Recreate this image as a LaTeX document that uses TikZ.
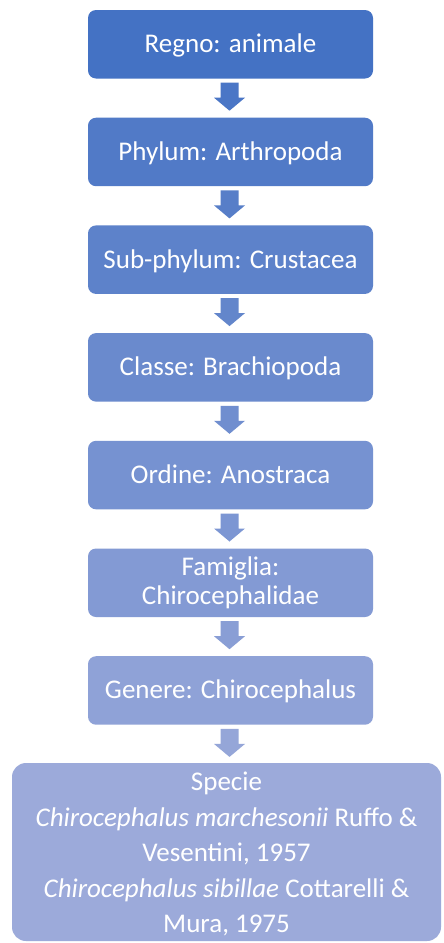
\documentclass[tikz,border=0pt]{standalone}
\usepackage{fontspec}
\setmainfont{Carlito}
\usetikzlibrary{calc}
\definecolor{c1}{RGB}{68,114,196}
\definecolor{c2}{RGB}{81,122,199}
\definecolor{c3}{RGB}{93,130,202}
\definecolor{c4}{RGB}{106,138,205}
\definecolor{c5}{RGB}{118,146,209}
\definecolor{c6}{RGB}{131,154,212}
\definecolor{c7}{RGB}{143,162,215}
\definecolor{c8}{RGB}{156,170,218}
\colorlet{a1}{c1!50!c2}
\colorlet{a2}{c2!50!c3}
\colorlet{a3}{c3!50!c4}
\colorlet{a4}{c4!50!c5}
\colorlet{a5}{c5!50!c6}
\colorlet{a6}{c6!50!c7}
\colorlet{a7}{c7!50!c8}
\tikzset{
  taxbox/.style={rounded corners=8pt, minimum width=285pt, minimum height=68.5pt,
    inner sep=0pt, text=white, font=\fontsize{27}{29}\selectfont, align=center},
  oneline/.style={text height=21pt, text depth=4pt},
}
\newcommand{\blockarr}[3]{%
  \fill[#3] ($(#1.south)+(-1,4)$) ++(-9,0) -- ++(18,0) -- ++(0,15) -- ++(6.5,0)
    -- ++(-15.5,13) -- ++(-15.5,-13) -- ++(6.5,0) -- cycle;}
\begin{document}
\begin{tikzpicture}[x=1pt,y=-1pt]
\useasboundingbox[fill=white] (0,0) rectangle (444,943);
\node[taxbox, oneline, fill=c1] (b1) at (230.5,44.25) {Regno: animale};
\node[taxbox, oneline, fill=c2] (b2) at (230.5,151.95) {Phylum: Arthropoda};
\node[taxbox, oneline, fill=c3] (b3) at (230.5,259.65) {Sub-phylum: Crustacea};
\node[taxbox, oneline, fill=c4] (b4) at (230.5,367.35) {Classe: Brachiopoda};
\node[taxbox, oneline, fill=c5] (b5) at (230.5,475.05) {Ordine: Anostraca};
\node[taxbox, fill=c6] (b6) at (230.5,582.75) {Famiglia:\\Chirocephalidae};
\node[taxbox, oneline, fill=c7] (b7) at (230.5,690.45) {Genere: Chirocephalus};
\node[fill=c8, rounded corners=14pt, minimum width=429pt, minimum height=178pt,
  inner sep=0pt] (b8) at (226.5,852) {};
\node[anchor=north, inner sep=0pt, text=white, align=center,
  font=\fontsize{27}{35.5}\selectfont] (spt) at ($(b8.north)+(0,9)$)
  {Specie\\
   \textit{Chirocephalus marchesonii} Ruffo \&\\
   Vesentini, 1957\\
   \textit{Chirocephalus sibillae} Cottarelli \&\\
   Mura, 1975};
\blockarr{b1}{b2}{a1}
\blockarr{b2}{b3}{a2}
\blockarr{b3}{b4}{a3}
\blockarr{b4}{b5}{a4}
\blockarr{b5}{b6}{a5}
\blockarr{b6}{b7}{a6}
\blockarr{b7}{b8}{a7}
\end{tikzpicture}
\end{document}
